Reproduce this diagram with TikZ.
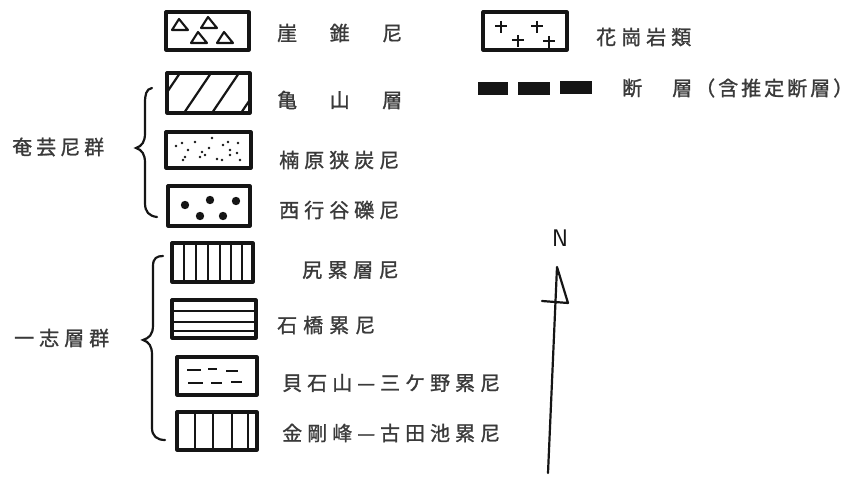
\documentclass[tikz,border=0pt]{standalone}
\usepackage{fontspec}
\newfontfamily\cjk{Noto Sans CJK JP}[FakeBold=1.2]
\definecolor{ink}{HTML}{151515}
\definecolor{txt}{HTML}{3A3A3A}
\makeatletter
\newcommand\gapped[2]{\def\gap@amt{#1}\gap@loop#2\gap@end}
\let\gap@end\relax
\def\gap@loop#1{\ifx#1\gap@end\else#1\expandafter\gap@check\fi}
\def\gap@check#1{\ifx#1\gap@end\else\kern\gap@amt\relax\expandafter\gap@loop\expandafter#1\fi}
\makeatother
\tikzset{
  legbox/.style={draw=ink, line width=3.2pt, line join=round},
  hatch/.style={draw=ink, line width=2.2pt},
  tri/.style={draw=ink, line width=2.1pt, line join=round},
  brace/.style={draw=ink, line width=2.2pt, line cap=round},
  fault/.style={draw=ink, line width=13pt},
  arrowline/.style={draw=ink, line width=2.2pt, line cap=round, line join=round},
  lbl/.style={anchor=west, inner sep=0pt, text=txt, font=\cjk\fontsize{20}{20}\selectfont},
}
\begin{document}
\begin{tikzpicture}[x=1pt,y=-1pt]
\useasboundingbox (0,0) rectangle (861,478);
\fill[white] (0,0) rectangle (861,478);

% box 1 : talus (triangles)
\draw[legbox] (166,12) rectangle (249,50);
\foreach \x/\y in {180/25,209/23,199/38,225/38}
  \draw[tri] (\x-8,\y+5) -- (\x-1,\y-6) -- (\x+8,\y+5) -- cycle;
\node[lbl] (t1) at (277,33) {\gapped{32.5pt}{崖錐尼}};

% box 2 : hatched
\draw[legbox] (167,73) rectangle (250,113);
\begin{scope}
  \clip (167,73) rectangle (250,113);
  \foreach \t in {180,211,239,268} \draw[hatch] (\t,73) -- (\t-27,113);
\end{scope}
\node[lbl] (t2) at (277,100) {\gapped{32.5pt}{亀山層}};

% box 3 : fine speckles
\draw[legbox] (166,132) rectangle (251,168);
\foreach \x/\y in {182/143,188/150,195/142,209/148,212/138,223/145,228/142,230/150,238/143,237/153,183/160,185/157,200/157,217/159,222/160,230/155,240/160,202/152,205/155,176/146}
  \fill[ink] (\x,\y) circle (1.4);
\node[lbl] (t3) at (279,160) {\gapped{5pt}{楠原狭炭尼}};

% box 4 : pebbles
\draw[legbox] (168,186) rectangle (250,226);
\foreach \x/\y in {185/205,210/200,236/201,200/216,223/216}
  \fill[ink] (\x,\y) circle (4.2);
\node[lbl] (t4) at (279,210) {\gapped{5pt}{西行谷礫尼}};

% brace 1
\draw[brace] (152,88) .. controls (146,89) and (145,95) .. (145,103) -- (145,133)
  .. controls (145,142) and (142,146) .. (136,148)
  .. controls (142,150) and (145,154) .. (145,163) -- (145,203)
  .. controls (145,212) and (149,216) .. (157,217);
\node[lbl] (g1) at (12,147) {\gapped{4pt}{奄芸尼群}};

% box 5 : vertical lines (narrow)
\draw[legbox] (172,243) rectangle (253,282);
\foreach \x in {184,196,208,220,231,242} \draw[hatch] (\x,243) -- (\x,282);
\node[lbl] (t5) at (302,270) {\gapped{5.5pt}{尻累層尼}};

% box 6 : horizontal lines
\draw[legbox] (172,300) rectangle (256,338);
\foreach \y in {311,322,331} \draw[hatch] (172,\y) -- (256,\y);
\node[lbl] (t6) at (277,325) {\gapped{6pt}{石橋累尼}};

% box 7 : dashes
\draw[legbox] (177,357) rectangle (257,395);
\foreach \a/\b/\y in {187/201/370,208/217/369,226/238/371,188/203/383,211/222/383,231/242/382}
  \draw[hatch] (\a,\y) -- (\b,\y);
\node[lbl] (t7) at (282,383) {\gapped{5pt}{貝石山—三ケ野累尼}};

% box 8 : vertical lines (wide)
\draw[legbox] (177,412) rectangle (257,450);
\foreach \x in {195,213,232,248} \draw[hatch] (\x,412) -- (\x,450);
\node[lbl] (t8) at (282,433) {\gapped{5pt}{金剛峰—古田池累尼}};

% brace 2
\draw[brace] (163,256) .. controls (157,256) and (153,258) .. (153,266) -- (153,325)
  .. controls (153,335) and (149,338) .. (143,340)
  .. controls (149,342) and (152,346) .. (152,355) -- (152,428)
  .. controls (152,436) and (157,440) .. (165,440);
\node[lbl] (g2) at (14,338) {\gapped{5pt}{一志層群}};

% granite
\draw[legbox] (483,12) rectangle (567,50);
\foreach \x/\y in {501/26,537/26,518/40,549/41}
  \draw[tri] (\x-6,\y) -- (\x+6,\y) (\x,\y-5) -- (\x,\y+7);
\node[lbl] (t9) at (596,37) {\gapped{5pt}{花崗岩類}};

% fault
\draw[fault] (478,89) -- (508,89);
\draw[fault] (518,89) -- (550,89);
\draw[fault] (560,88) -- (592,88);
\node[lbl] (t10) at (622,88) {断};
\node[lbl] (t11) at (672,88) {\gapped{3pt}{層（含推定断層）}};

% north arrow
\coordinate (s0) at (548,473);
\coordinate (s1) at (557,267);
\coordinate (h1) at (568,303);
\coordinate (h2) at (542,301);
\draw[arrowline] (s0) -- (s1) -- (h1) -- (h2);
\node[inner sep=0pt, text=ink, font=\sffamily\fontsize{24}{24}\selectfont] (N) at (560,238) {N};
\end{tikzpicture}
\end{document}
